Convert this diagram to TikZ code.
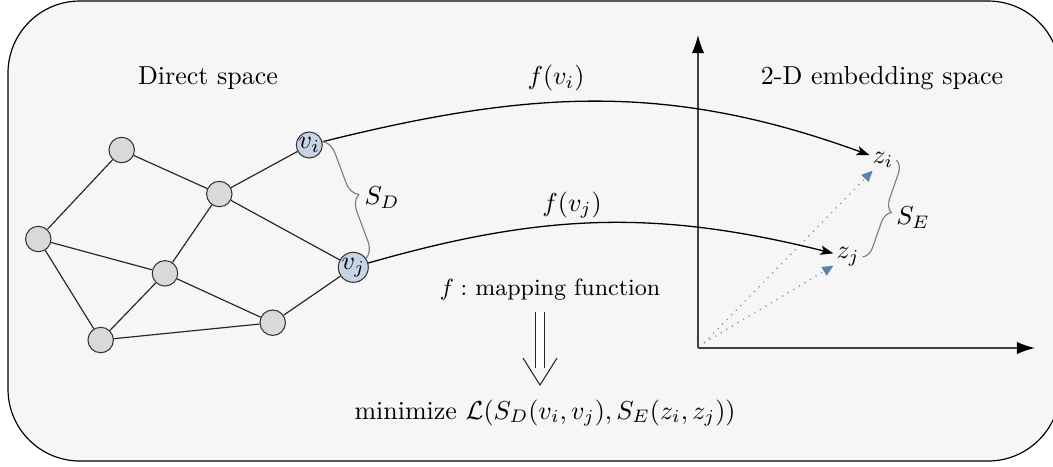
\documentclass[tikz,border=0pt]{standalone}
\usetikzlibrary{arrows.meta,decorations.pathreplacing}
\definecolor{bgc}{HTML}{F6F6F6}
\definecolor{nodegray}{HTML}{D9D9D9}
\definecolor{nodeblue}{HTML}{C6D4E6}
\definecolor{dotblue}{HTML}{7A9CC8}
\definecolor{tipblue}{HTML}{5B80B0}
\begin{document}
\begin{tikzpicture}[x=0.385pt,y=-0.385pt,
  gnode/.style={circle,draw=black!80,fill=nodegray,minimum size=9.8pt,inner sep=0pt},
  vnode/.style={gnode,fill=nodeblue},
  edgeline/.style={draw=black!85,line width=0.45pt},
  mapline/.style={-{Stealth[length=5pt,width=3.6pt,inset=1.2pt]},line width=0.5pt},
  embline/.style={dotted,draw=dotblue,line width=0.5pt,-{Triangle[length=4.2pt,width=3.8pt,color=tipblue]}},
  bracestyle/.style={decorate,decoration={brace,amplitude=#1},draw=gray,line width=0.45pt},
  axisline/.style={-{Latex[length=7pt,width=4.8pt,color=black]},line width=0.6pt,draw=black!75},
  implstyle/.style={line width=0.4pt,draw=black!85}
]
\useasboundingbox (0,0) rectangle (1053,466);
\clip (0,0) rectangle (1053,466);
\draw[fill=bgc,line width=0.45pt,rounded corners=27.7pt] (8,1) rectangle (1060,461);

% graph nodes
\node[gnode] (A) at (121.7,150) {};
\node[gnode] (B) at (219.3,194) {};
\node[gnode] (C) at (38.3,239) {};
\node[gnode] (D) at (165,273.3) {};
\node[gnode] (E) at (100.7,340) {};
\node[gnode] (F) at (272.7,322.7) {};
\node[vnode] (vi) at (309.3,145) {$v_i$};
\node[vnode] (vj) at (353.3,267.3) {$v_j$};

\draw[edgeline] (A) -- (B);
\draw[edgeline] (A) -- (C);
\draw[edgeline] (B) -- (vi);
\draw[edgeline] (B) -- (vj);
\draw[edgeline] (B) -- (D);
\draw[edgeline] (C) -- (D);
\draw[edgeline] (C) -- (E);
\draw[edgeline] (D) -- (E);
\draw[edgeline] (D) -- (F);
\draw[edgeline] (E) -- (F);
\draw[edgeline] (F) -- (vj);

% titles
\node (tdirect) at (208,78) {Direct space};
\node (tembed) at (882,78) {2-D embedding space};

% axes
\coordinate (o) at (698,348);
\coordinate (yend) at (698,35);
\coordinate (xend) at (1035,348);
\draw[axisline] (o) -- (yend);
\draw[axisline] (o) -- (xend);

% embedded points
\node[inner sep=1pt] (zi) at (883,160) {$z_i$};
\node[inner sep=1pt] (zj) at (848,257) {$z_j$};
\coordinate (os) at (704,343);
\draw[embline] (os) -- (zi);
\draw[embline] (os) -- (zj);

% mapping curves
\draw[mapline] (vi) to[out=14,in=160] (zi);
\draw[mapline] (vj) to[out=16,in=166] (zj);
\node (lfi) at (556,78) {$f(v_i)$};
\node (lfj) at (572,205) {$f(v_j)$};

% braces
\draw[bracestyle=6pt] (vi.15) -- (vj.35);
\node (sd) at (382,198) {$S_D$};
\draw[bracestyle=4.8pt] (zi.east) -- (zj.east);
\node (se) at (913,218) {$S_E$};

% mapping function and objective
\node[font=\small] (fm) at (550,290) {$f:$ mapping function};
\node (mini) at (545,413) {minimize $\mathcal{L}(S_D(v_i,v_j),S_E(z_i,z_j))$};
\coordinate (ia) at (540,312);
\coordinate (ic) at (540,368);
\coordinate (ib) at (540,385);
\draw[implstyle,double,double distance=2.9pt] (ia) -- (ic);
\draw[implstyle,line join=miter] ([shift={(-17,-27)}]ib) -- (ib) -- ([shift={(17,-27)}]ib);
\end{tikzpicture}
\end{document}
